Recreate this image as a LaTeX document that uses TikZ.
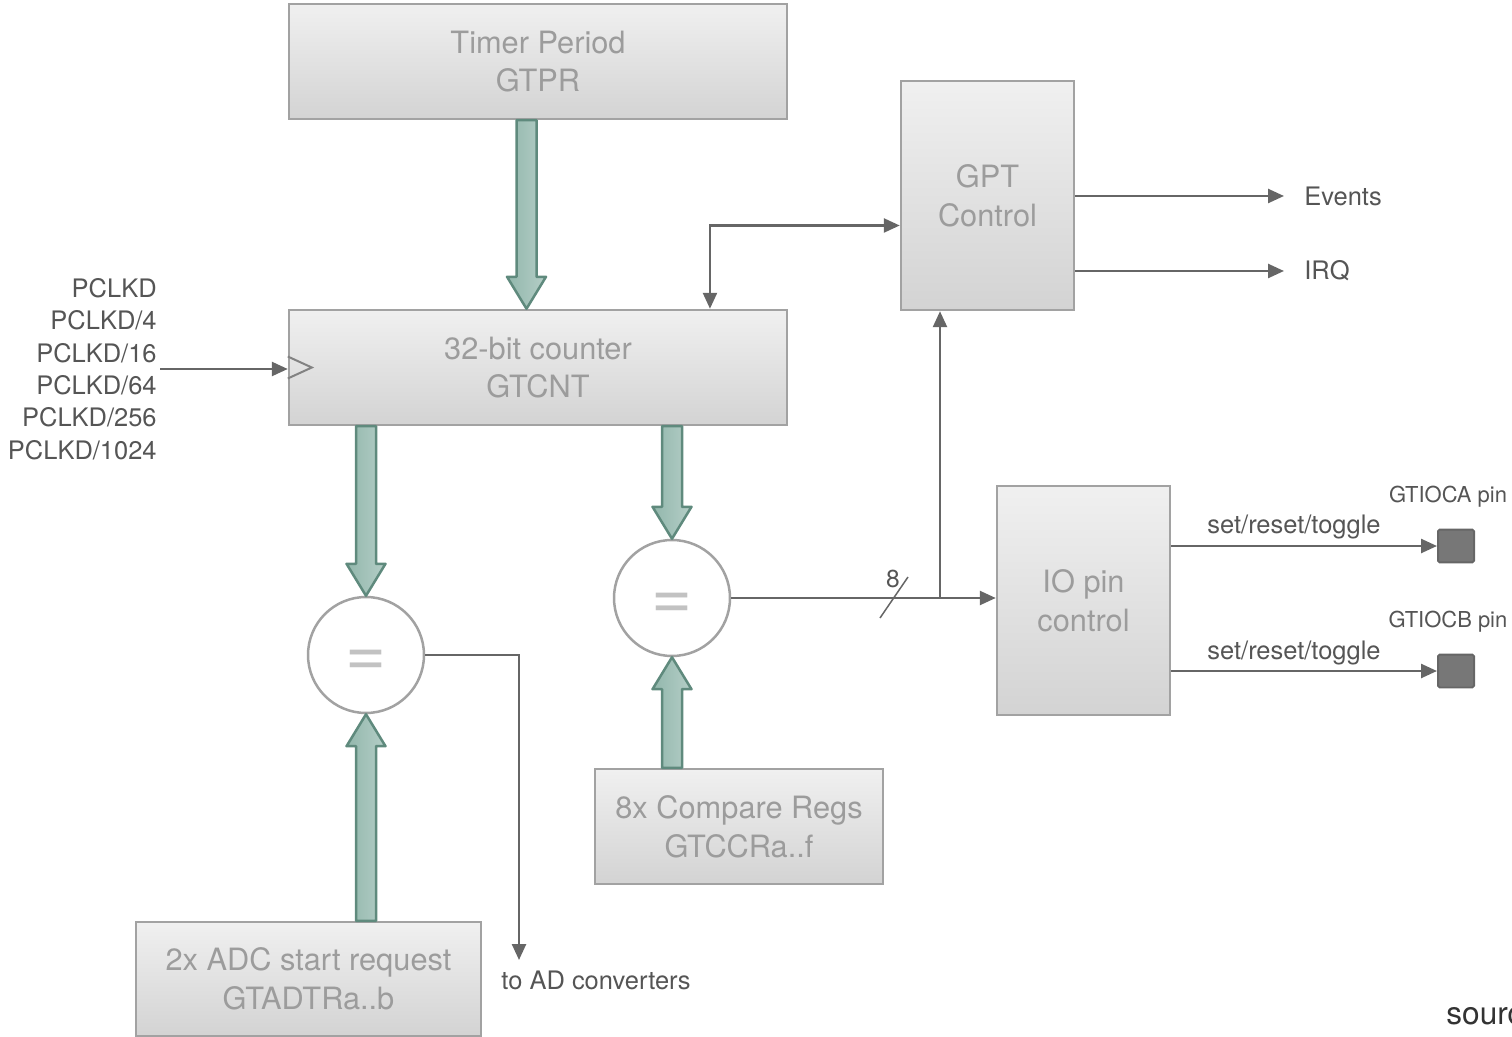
\documentclass[tikz,border=0pt]{standalone}
\usepackage{fontspec}
\setmainfont{TeX Gyre Heros}
\usetikzlibrary{shapes,arrows.meta,positioning,calc}

\definecolor{boxline}{HTML}{A2A2A2}
\definecolor{boxtop}{HTML}{F0F0F0}
\definecolor{boxbot}{HTML}{D3D3D3}
\definecolor{boxtext}{HTML}{9C9C9C}
\definecolor{eqsign}{HTML}{C2C2C2}
\definecolor{sigline}{HTML}{666666}
\definecolor{lbltext}{HTML}{555555}
\definecolor{pinfill}{HTML}{777777}
\definecolor{pinline}{HTML}{666666}
\definecolor{fatline}{HTML}{5F8A7D}
\definecolor{fatleft}{HTML}{92B7AC}
\definecolor{fatright}{HTML}{B5CEC7}

% wide bus arrow between two points on one vertical line
\newcommand{\fatarrow}[2]{%
  \draw[fat] let \p1=#1, \p2=#2, \p3=($#2!0.64cm!#1$) in
    (\x1-0.2cm,\y1) -- (\x1-0.2cm,\y3) -- (\x1-0.39cm,\y3) -- (\x2,\y2)
    -- (\x1+0.39cm,\y3) -- (\x1+0.2cm,\y3) -- (\x1+0.2cm,\y1) -- cycle;}

\begin{document}
\begin{tikzpicture}[
    x=0.02cm, y=-0.02cm,
    sigtip/.tip = {Triangle[length=0.32cm,width=0.28cm]},
    box/.style = {rectangle, draw=boxline, line width=0.05cm, top color=boxtop, bottom color=boxbot, text=boxtext, align=center, inner sep=0pt, font=\fontsize{17.5}{22}\selectfont},
    cmp/.style = {circle, draw=boxline, line width=0.05cm, fill=white, minimum size=2.32cm, inner sep=0pt, text=eqsign, text height=24pt, text depth=0pt, font=\fontsize{40}{40}\selectfont},
    sig/.style = {draw=sigline, line width=0.05cm, -sigtip},
    lbl/.style = {text=lbltext, inner sep=0pt, font=\fontsize{14.5}{18.4}\selectfont},
    pinlbl/.style = {text=lbltext, inner sep=0pt, font=\fontsize{12.5}{15}\selectfont},
    pin/.style = {rectangle, draw=pinline, fill=pinfill, line width=0.04cm, rounded corners=1pt, minimum width=0.72cm, minimum height=0.66cm},
    fat/.style = {draw=fatline, line width=0.05cm, left color=fatleft, right color=fatright, line join=round}
]
\useasboundingbox (0,0) rectangle (1512,1037);

% registers and blocks
\node[box, minimum width=9.96cm, minimum height=2.3cm] (period) at (538,61.5) {Timer Period\\GTPR};
\node[box, minimum width=9.96cm, minimum height=2.3cm] (counter) at (538,367.5) {32-bit counter\\GTCNT};
\node[box, minimum width=3.46cm, minimum height=4.58cm] (gpt) at (987.5,195.5) {GPT\\Control};
\node[box, minimum width=3.46cm, minimum height=4.58cm] (iopin) at (1083.5,600.5) {IO pin\\control};
\node[box, minimum width=5.76cm, minimum height=2.3cm] (regs) at (739,826.5) {8x Compare Regs\\GTCCRa..f};
\node[box, minimum width=6.9cm, minimum height=2.28cm] (adc) at (308.5,979) {2x ADC start request\\GTADTRa..b};

% comparators
\node[cmp] (cmpa) at (366,655) {=};
\node[cmp] (cmpb) at (672,598) {=};

% bus arrows
\fatarrow{([xshift=-0.23cm]period.south)}{([xshift=-0.23cm]counter.north)}
\fatarrow{(counter.south -| cmpa)}{(cmpa.north)}
\fatarrow{(counter.south -| cmpb)}{(cmpb.north)}
\fatarrow{(regs.north -| cmpb)}{(cmpb.south)}
\fatarrow{(adc.north -| cmpa)}{(cmpa.south)}

% clock input
\node[lbl, align=right, anchor=east] (clksrc) at (157,369) {PCLKD\\PCLKD/4\\PCLKD/16\\PCLKD/64\\PCLKD/256\\PCLKD/1024};
\draw[sig] ([xshift=0.06cm]clksrc.east) -- (clksrc.east -| counter.west);
\draw[draw=boxline!80!black, line width=0.04cm, line join=miter] ([yshift=0.22cm]counter.west) -- ([xshift=0.48cm]counter.west) -- ([yshift=-0.22cm]counter.west);

% counter <-> control
\draw[sig, sigtip-sigtip] ([xshift=3.44cm]counter.north) |- ([yshift=-0.6cm]gpt.west);

% compare outputs
\coordinate (adout) at (519,960);
\node[lbl] (adtxt) at (596,980) {to AD converters};
\draw[sig] (cmpa.east) -| (adout);

\coordinate (tap) at (940,598);
\coordinate (bus) at (894,598);
\draw[sig] (cmpb.east) -- (cmpb.east -| iopin.west);
\draw[sig] (tap) -- (tap |- gpt.south);
\draw[draw=sigline, line width=0.03cm] ([shift={(-14,20)}]bus) -- ([shift={(14,-21)}]bus);
\node[lbl, font=\fontsize{14}{16}\selectfont] (buswidth) at (893,579) {8};

% control outputs
\node[lbl, anchor=west] (events) at (1304,196) {Events};
\node[lbl, anchor=west] (irq) at (1304,271) {IRQ};
\draw[sig] (gpt.east |- events) -- ([xshift=-0.4cm]events.west);
\draw[sig] (gpt.east |- irq) -- ([xshift=-0.4cm]irq.west);

% pins
\node[pin] (pina) at (1456,546) {};
\node[pin] (pinb) at (1456,671) {};
\node[pinlbl] (pinalbl) at (1448,497) {GTIOCA pin};
\node[pinlbl] (pinblbl) at (1448,622) {GTIOCB pin};
\node[lbl] (srta) at (1294,527) {set/reset/toggle};
\node[lbl] (srtb) at (1294,653) {set/reset/toggle};
\draw[sig] (iopin.east |- pina) -- (pina.west);
\draw[sig] (iopin.east |- pinb) -- (pinb.west);

\node[text=black!80, anchor=base west, inner sep=0pt, font=\fontsize{18}{20}\selectfont] (src) at (1446,1024) {source};
\end{tikzpicture}
\end{document}
